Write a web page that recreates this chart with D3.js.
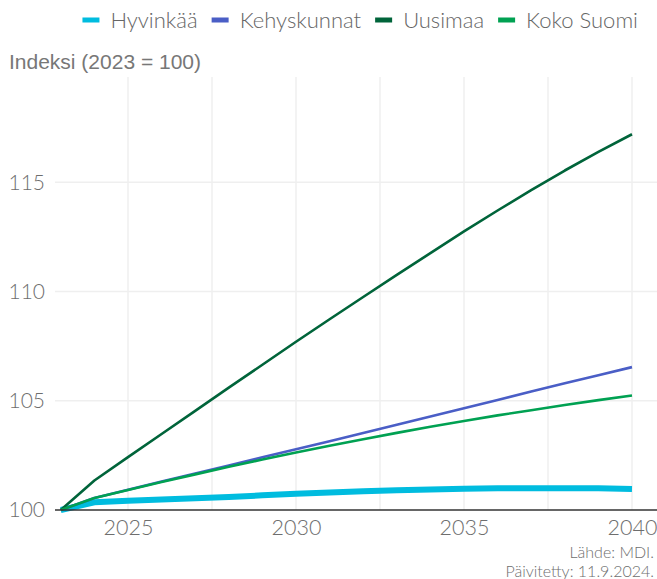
<!DOCTYPE html>
<html>
<head>
<meta charset="utf-8">
<script src="https://cdn.jsdelivr.net/npm/d3@7"></script>
<style>
  html, body { margin: 0; padding: 0; background: #fff; }
  svg { display: block; }
</style>
</head>
<body>
<svg id="chart" width="657" height="579"></svg>
<script>
const years = [2023,2024,2025,2026,2027,2028,2029,2030,2031,2032,2033,2034,2035,2036,2037,2038,2039,2040];
const hyvinkaa    = [100,100.35,100.42,100.48,100.54,100.60,100.67,100.74,100.80,100.86,100.90,100.94,100.97,100.99,101.00,101.00,100.99,100.96];
const kehyskunnat = [100,100.55,100.93,101.30,101.67,102.04,102.41,102.78,103.15,103.52,103.90,104.28,104.66,105.04,105.42,105.80,106.17,106.54];
const uusimaa     = [100,101.35,102.42,103.48,104.54,105.60,106.65,107.70,108.73,109.75,110.76,111.76,112.75,113.71,114.64,115.54,116.39,117.20];
const kokoSuomi   = [100,100.55,100.92,101.28,101.63,101.98,102.31,102.63,102.94,103.24,103.53,103.81,104.07,104.33,104.57,104.81,105.03,105.24];
const seriesNames = ["Hyvinkää","Kehyskunnat","Uusimaa","Koko Suomi"];
const seriesColors = ["#00bcdf","#4a5ec6","#00643a","#00a152"];
const seriesValues = [hyvinkaa, kehyskunnat, uusimaa, kokoSuomi];
const yTicks = [100,105,110,115];
const xTicks = [2025,2030,2035,2040];
const xGrid = [2025,2027.5,2030,2032.5,2035,2037.5,2040];
const titleText = "Indeksi (2023 = 100)";
const sourceLines = ["Lähde: MDI.","Päivitetty: 11.9.2024."];

const svg = d3.select("#chart");
const plotLeft = 55, plotRight = 657, plotTop = 77, plotBottom = 510;

const x = d3.scaleLinear().domain([2025, 2040]).range([128, 632]);
const y = d3.scaleLinear().domain([100, 115]).range([510, 182.3]);

// gridlines
const g = svg.append("g");
g.selectAll("line.vg").data(xGrid).enter().append("line")
  .attr("x1", d => x(d)).attr("x2", d => x(d))
  .attr("y1", plotTop).attr("y2", plotBottom)
  .attr("stroke", "#efefef").attr("stroke-width", 1.5);
g.selectAll("line.hg").data(yTicks.filter(d => d > 100)).enter().append("line")
  .attr("x1", plotLeft).attr("x2", plotRight)
  .attr("y1", d => y(d)).attr("y2", d => y(d))
  .attr("stroke", "#efefef").attr("stroke-width", 1.5);

// y axis labels
const yAxis = d3.axisLeft(y).tickValues(yTicks).tickSize(0).tickPadding(0).tickFormat(d3.format("d"));
const ya = svg.append("g").attr("transform", `translate(45,0)`).call(yAxis);
ya.select(".domain").remove();
ya.selectAll("text").attr("font-family", "Lato").attr("font-weight", 300).attr("font-size", 21).attr("fill", "#6e6e6e");

// x axis labels
const xAxis = d3.axisBottom(x).tickValues(xTicks).tickSize(0).tickPadding(0).tickFormat(d3.format("d"));
const xa = svg.append("g").attr("transform", `translate(0,${plotBottom + 10})`).call(xAxis);
xa.select(".domain").remove();
xa.selectAll("text").attr("font-family", "Lato").attr("font-weight", 300).attr("font-size", 21.5).attr("fill", "#6e6e6e").attr("dy", "0.71em");

// lines
const line = d3.line().x((d, i) => x(years[i])).y(d => y(d));
const widths = [6, 2.6, 2.6, 2.6];
svg.append("g").selectAll("path").data(seriesValues).enter().append("path")
  .attr("d", d => line(d))
  .attr("fill", "none")
  .attr("stroke", (d, i) => seriesColors[i])
  .attr("stroke-width", (d, i) => widths[i])
  .attr("stroke-linejoin", "round");

// baseline
svg.append("line").attr("x1", plotLeft).attr("x2", plotRight)
  .attr("y1", y(100)).attr("y2", y(100))
  .attr("stroke", "#333").attr("stroke-width", 1.6);

// title
svg.append("text").attr("x", 9).attr("y", 69).text(titleText)
  .attr("font-family", "Liberation Sans, Arial").attr("font-size", 21).attr("fill", "#777");

// legend laid out right to left
const legend = svg.append("g");
let cursor = 638;
const legY = 20;
for (let i = seriesNames.length - 1; i >= 0; i--) {
  const t = legend.append("text").attr("y", legY).attr("dy", "0.35em")
    .text(seriesNames[i]).attr("font-family", "Lato").attr("font-weight", 300).attr("font-size", 22).attr("fill", "#666")
    .attr("text-anchor", "start");
  const w = t.node().getComputedTextLength();
  t.attr("x", cursor - w);
  const symRight = cursor - w - 11;
  legend.append("rect").attr("x", symRight - 17).attr("y", legY - 2.5).attr("width", 17).attr("height", 5)
    .attr("fill", seriesColors[i]);
  cursor = symRight - 17 - 14;
}

// source
svg.append("g").selectAll("text").data(sourceLines).enter().append("text")
  .attr("x", 654).attr("y", (d, i) => 558 + i * 18.5)
  .attr("text-anchor", "end").text(d => d)
  .attr("font-family", "Lato").attr("font-weight", 300).attr("font-size", 16).attr("fill", "#6e6e6e");
</script>
</body>
</html>
